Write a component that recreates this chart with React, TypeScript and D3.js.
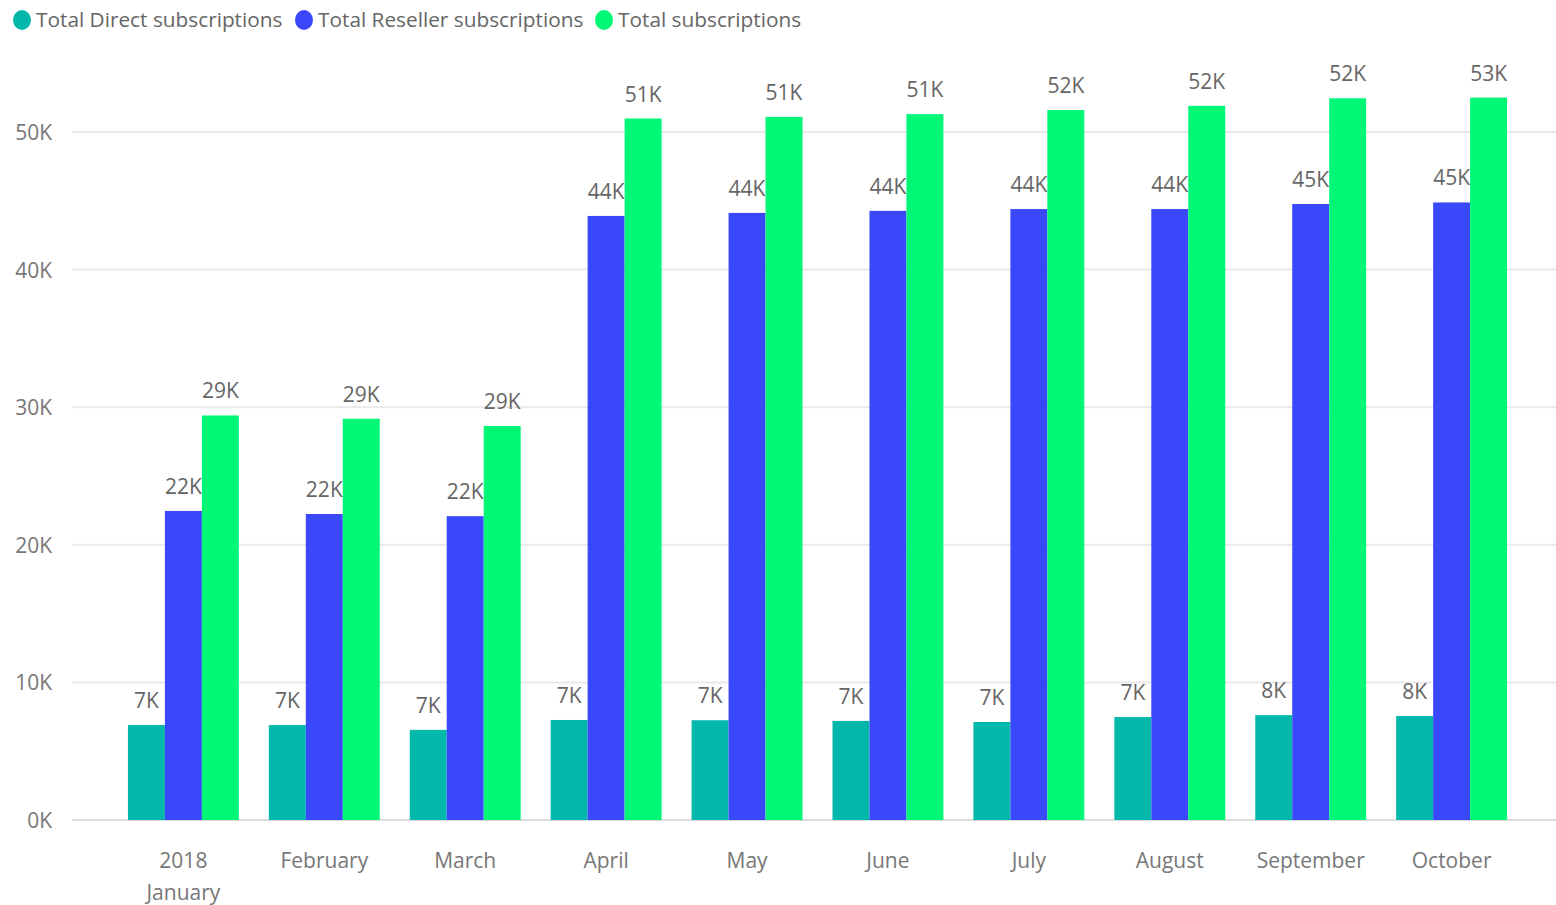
import React from "react";
import * as d3 from "d3";

const months = ["January", "February", "March", "April", "May", "June", "July", "August", "September", "October"];
const monthLabels = [["2018", "January"], ["February"], ["March"], ["April"], ["May"], ["June"], ["July"], ["August"], ["September"], ["October"]];
const direct = [6.9, 6.9, 6.55, 7.27, 7.25, 7.2, 7.12, 7.48, 7.62, 7.56];
const reseller = [22.46, 22.24, 22.08, 43.9, 44.12, 44.27, 44.4, 44.4, 44.77, 44.88];
const total = [29.4, 29.16, 28.63, 50.98, 51.1, 51.3, 51.6, 51.9, 52.45, 52.5];
const yTicks = [0, 10, 20, 30, 40, 50];

const seriesNames = ["Total Direct subscriptions", "Total Reseller subscriptions", "Total subscriptions"];
const colors = ["#01B8AA", "#3A48FC", "#00F876"];
const seriesData = [direct, reseller, total];

const W = 1556;
const H = 905;
const FONT = "'Open Sans', 'Noto Sans', sans-serif";

export default function App() {
  const x = d3.scaleBand<string>().domain(months).range([113, 1522]).paddingInner(0.213).paddingOuter(0.106);
  const x1 = d3.scaleBand<number>().domain([0, 1, 2]).range([0, x.bandwidth()]);
  const y = d3.scaleLinear().domain([0, 50]).range([820, 132]);

  const legendX = [22, 304, 604];

  return (
    <svg width={W} height={H} style={{ position: "absolute", left: 0, top: 0, background: "#fff" }} fontFamily={FONT}>
      {/* legend */}
      {seriesNames.map((n, i) => (
        <g key={n}>
          <ellipse cx={legendX[i]} cy={20} rx={9} ry={10} fill={colors[i]} />
          <text x={legendX[i] + 14} y={27} fontSize={20.8} fill="#666">{n}</text>
        </g>
      ))}
      {/* grid */}
      {yTicks.map((t) => (
        <g key={t}>
          <line x1={72} x2={1556} y1={y(t)} y2={y(t)} stroke={t === 0 ? "#dcdcdc" : "#e9e9e9"} strokeWidth={2} />
          <text x={52} y={y(t) + 8} textAnchor="end" fontSize={21} fill="#777">{t}K</text>
        </g>
      ))}
      {/* bars + labels, series by series */}
      {seriesData.map((vals, si) => (
        <g key={si}>
          {vals.map((v, mi) => {
            const bx = (x(months[mi]) as number) + (x1(si) as number);
            return (
              <g key={mi}>
                <rect x={bx} y={y(v)} width={x1.bandwidth()} height={y(0) - y(v)} fill={colors[si]} />
                <text x={bx + x1.bandwidth() / 2} y={y(v) - 17} textAnchor="middle" fontSize={21} fill="#666">
                  {Math.round(v)}K
                </text>
              </g>
            );
          })}
        </g>
      ))}
      {/* x labels */}
      {months.map((m, mi) => (
        <text key={m} x={(x(m) as number) + x.bandwidth() / 2} y={868} textAnchor="middle" fontSize={21} fill="#777">
          {monthLabels[mi].map((l, li) => (
            <tspan key={li} x={(x(m) as number) + x.bandwidth() / 2} dy={li === 0 ? 0 : 32}>{l}</tspan>
          ))}
        </text>
      ))}
    </svg>
  );
}
